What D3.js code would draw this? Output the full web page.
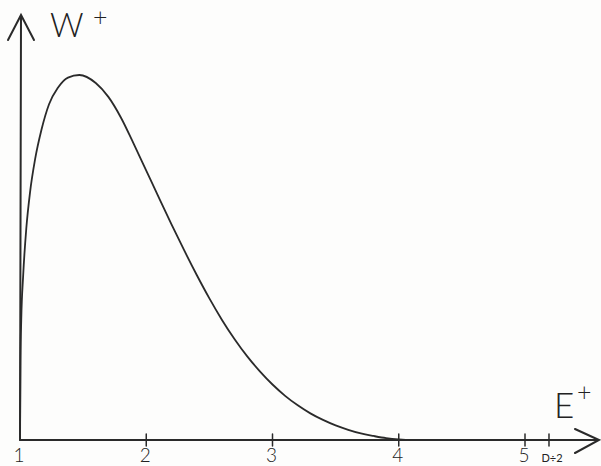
<!DOCTYPE html>
<html>
<head>
<meta charset="utf-8">
<script src="https://cdn.jsdelivr.net/npm/d3@7"></script>
<style>
  body { margin: 0; background: #fdfdfc; }
  text { font-family: Lato, "Open Sans", "DejaVu Sans", sans-serif; fill: #222; }
</style>
</head>
<body>
<svg width="601" height="466"></svg>
<script>
// values (E+ in units of the x axis, W+ relative to the peak = 100)
var energy = [1.000, 1.004, 1.010, 1.025, 1.050, 1.080, 1.120, 1.170, 1.230, 1.300, 1.380,
    1.470, 1.600, 1.700, 1.800, 1.900, 2.000, 2.100, 2.200, 2.300, 2.400, 2.500, 2.600,
    2.700, 2.800, 2.900, 3.000, 3.100, 3.200, 3.300, 3.400, 3.500, 3.600, 3.700, 3.800,
    3.900, 4.000, 4.100, 4.200];
var weight = [0, 22, 33, 45, 58, 68, 77, 85, 92, 96.5, 99.3,
    100, 97.8, 94, 88.3, 81.2, 73.8, 66.4, 59.1, 52, 45.2, 38.8, 32.9,
    27.6, 22.9, 18.8, 15.2, 12.1, 9.5, 7.3, 5.5, 4.0, 2.8, 1.8, 1.1,
    0.5, 0.15, 0, 0];
var tickValues = [1, 2, 3, 4, 5];
var extraTick = {value: 5.19, label: "D\u00f72"};

var svg = d3.select("svg"),
    x = d3.scaleLinear().domain([1, 5]).range([20, 525]),
    y = d3.scaleLinear().domain([0, 100]).range([440, 75]);

var points = energy.map(function (e, i) {
    return {e: e, w: weight[i]};
});

// axes, hand drawn style: plain lines with open arrow heads
var axes = svg.append("g")
    .attr("fill", "none")
    .attr("stroke", "#2a2a2a")
    .attr("stroke-width", 2)
    .attr("stroke-linecap", "round");

axes.append("line")
    .attr("x1", x(1)).attr("y1", y(0))
    .attr("x2", 598).attr("y2", y(0));
axes.append("path")
    .attr("d", "M575," + (y(0) - 11) + "L599," + y(0) + "L575," + (y(0) + 13));

axes.append("line")
    .attr("x1", x(1)).attr("y1", y(0))
    .attr("x2", x(1) + 1).attr("y2", 16);
axes.append("path")
    .attr("d", "M" + (x(1) - 12) + ",40L" + (x(1) + 1) + ",15L" + (x(1) + 14) + ",40");

var ticks = tickValues.slice(1).concat([extraTick.value]);
axes.selectAll(".tick")
    .data(ticks)
    .enter().append("line")
    .attr("class", "tick")
    .attr("stroke-width", 1.5)
    .attr("x1", function (d) { return x(d); })
    .attr("x2", function (d) { return x(d); })
    .attr("y1", y(0) - 6)
    .attr("y2", y(0) + 6);

svg.selectAll(".tlabel")
    .data(tickValues)
    .enter().append("text")
    .attr("class", "tlabel")
    .attr("x", function (d) { return x(d) - 1; })
    .attr("y", 462)
    .attr("text-anchor", "middle")
    .attr("font-size", 19)
    .attr("font-weight", 300)
    .text(function (d) { return d; });

svg.append("text")
    .attr("x", x(extraTick.value) + 3)
    .attr("y", 462)
    .attr("text-anchor", "middle")
    .attr("font-size", 11)
    .attr("font-family", "'DejaVu Sans Mono', monospace")
    .text(extraTick.label);

// axis titles
svg.append("text")
    .attr("x", 50).attr("y", 37)
    .attr("font-size", 33)
    .attr("font-weight", 300)
    .text("W");
svg.append("text")
    .attr("x", 93).attr("y", 26)
    .attr("font-size", 25)
    .attr("font-weight", 300)
    .text("+");
svg.append("text")
    .attr("x", 554).attr("y", 418)
    .attr("font-size", 35)
    .attr("font-weight", 300)
    .text("E");
svg.append("text")
    .attr("x", 577).attr("y", 401)
    .attr("font-size", 25)
    .attr("font-weight", 300)
    .text("+");

// the distribution curve
var line = d3.line()
    .x(function (d) { return x(d.e); })
    .y(function (d) { return y(d.w); })
    .curve(d3.curveMonotoneX);

svg.append("path")
    .datum(points)
    .attr("fill", "none")
    .attr("stroke", "#2a2a2a")
    .attr("stroke-width", 1.8)
    .attr("d", line);
</script>
</body>
</html>
